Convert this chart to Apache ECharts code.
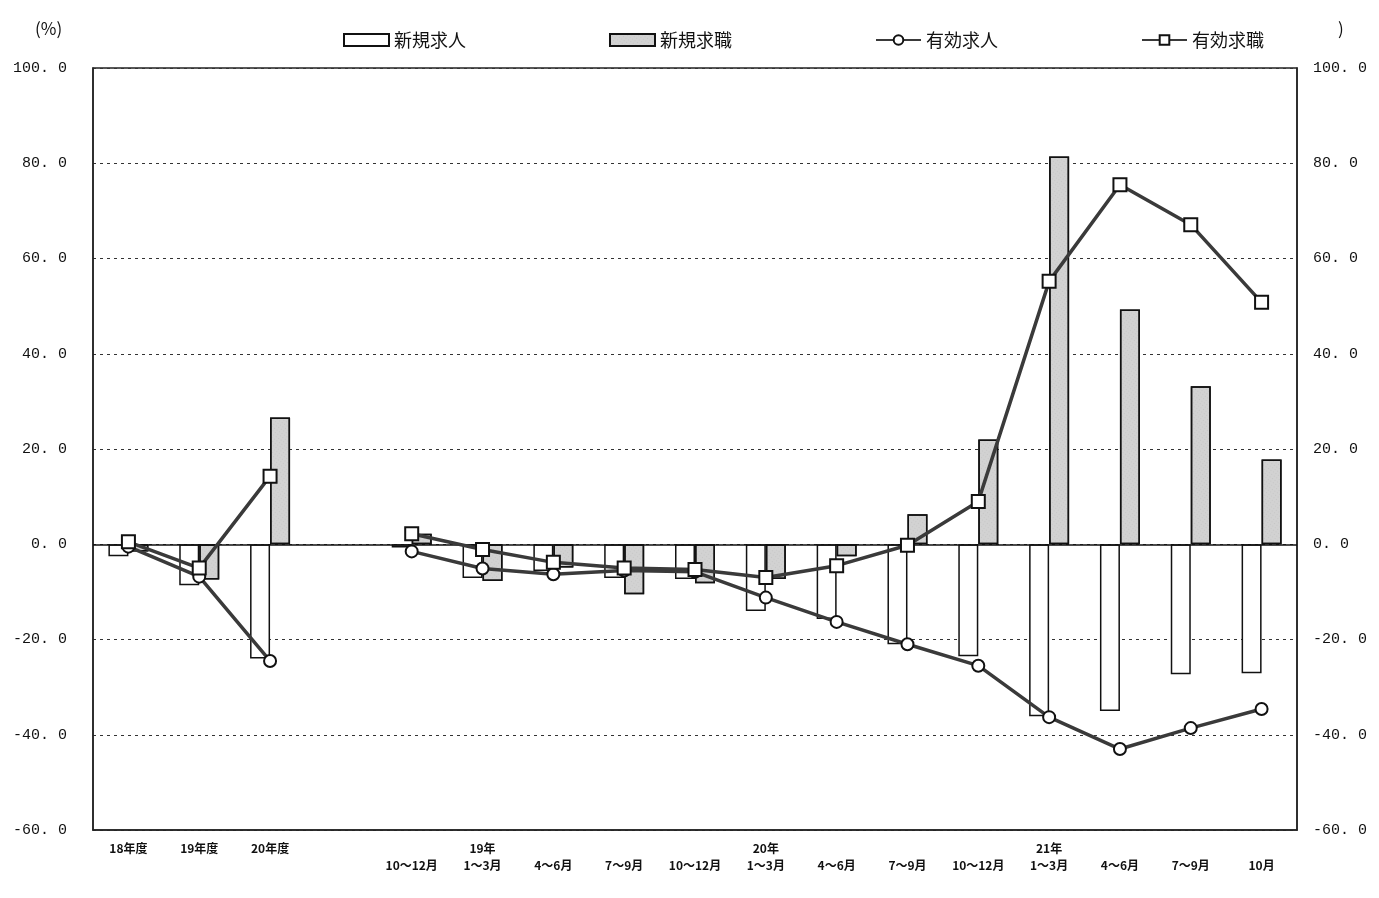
<!DOCTYPE html>
<html>
<head>
<meta charset="utf-8">
<script src="https://cdn.jsdelivr.net/npm/echarts@6/dist/echarts.min.js"></script>
<style>
  html, body { margin: 0; padding: 0; background: #fff; }
  #chart { width: 1379px; height: 898px; }
</style>
</head>
<body>
<div id="chart"></div>
<script>
// Category labels (fiscal years, a blank spacer, then quarters)
const categories = [
  '18年度', '19年度', '20年度', '',
  '\n10～12月', '19年\n1～3月', '\n4～6月', '\n7～9月', '\n10～12月',
  '20年\n1～3月', '\n4～6月', '\n7～9月', '\n10～12月',
  '21年\n1～3月', '\n4～6月', '\n7～9月', '\n10月'
];

// Year-on-year change (%)
const newOpenings   = [-2.5, -8.6, -24.0, null, -0.7, -7.1, -5.6, -7.1, -7.3, -14.0, -15.7, -21.0, -23.5, -36.1, -35.0, -27.3, -27.1];
const newApplicants = [-1.5, -7.4, 26.6, null, 2.2, -7.7, -4.9, -10.5, -8.2, -7.3, -2.5, 6.3, 22.0, 81.4, 49.3, 33.2, 17.8];
const activeOpenings   = [-0.5, -6.8, -24.5, null, -1.5, -5.1, -6.3, -5.5, -5.8, -11.2, -16.3, -21.0, -25.5, -36.3, -43.0, -38.6, -34.6];
const activeApplicants = [0.5, -5.0, 14.3, null, 2.2, -1.1, -3.8, -5.0, -5.3, -7.0, -4.5, -0.2, 9.0, 55.2, 75.5, 67.1, 50.8];

const yTicks = { min: -60, max: 100, interval: 20 };

const chart = echarts.init(document.getElementById('chart'), null, { renderer: 'canvas' });

const tickFont = 'Liberation Mono, DejaVu Sans Mono, monospace';
const cjkFont = '"Noto Sans CJK JP", sans-serif';
const fmt = v => v.toFixed(1).replace('.', '. ');

const lineStyle = { color: '#3a3a3a', width: 3.5 };

chart.setOption({
  animation: false,
  backgroundColor: '#fff',
  textStyle: { fontFamily: cjkFont },
  graphic: [
    { type: 'text', left: 35, top: 20, style: { text: '(%)', font: '17px ' + cjkFont, fill: '#111' } },
    { type: 'text', left: 1338, top: 20, style: { text: ')', font: '17px ' + cjkFont, fill: '#111' } }
  ],
  legend: {
    left: 338,
    top: 26,
    itemWidth: 45,
    itemHeight: 12,
    itemGap: 143,
    textStyle: { fontSize: 18, color: '#111', fontFamily: cjkFont },
    data: [
      { name: '新規求人', icon: 'rect' },
      { name: '新規求職', icon: 'rect' },
      { name: '有効求人' },
      { name: '有効求職' }
    ]
  },
  grid: {
    left: 93, right: 82, top: 68, bottom: 68,
    show: true, borderColor: '#222', borderWidth: 1.5,
    containLabel: false
  },
  xAxis: {
    type: 'category',
    data: categories,
    boundaryGap: true,
    axisLine: { onZero: false, lineStyle: { color: '#222', width: 1.5 } },
    axisTick: { show: false },
    axisLabel: {
      interval: 0,
      margin: 10,
      fontSize: 12,
      fontWeight: 'bold',
      lineHeight: 17,
      color: '#111',
      fontFamily: cjkFont
    }
  },
  yAxis: [
    {
      type: 'value',
      min: yTicks.min, max: yTicks.max, interval: yTicks.interval,
      axisLine: { show: true, lineStyle: { color: '#222', width: 1.5 } },
      axisTick: { show: false },
      axisLabel: { formatter: fmt, fontSize: 15, color: '#111', margin: 26, fontFamily: tickFont },
      splitLine: { show: true, lineStyle: { color: '#333', type: [3, 4], width: 1 } }
    },
    {
      type: 'value',
      position: 'right',
      min: yTicks.min, max: yTicks.max, interval: yTicks.interval,
      axisLine: { show: true, lineStyle: { color: '#222', width: 1.5 } },
      axisTick: { show: false },
      axisLabel: { formatter: fmt, fontSize: 15, color: '#111', margin: 16, fontFamily: tickFont },
      splitLine: { show: false }
    }
  ],
  series: [
    {
      name: '新規求人',
      type: 'bar',
      data: newOpenings,
      barWidth: 20,
      barGap: '0%',
      itemStyle: { color: '#fff', borderColor: '#111', borderWidth: 1.5 },
      markLine: {
        silent: true,
        symbol: 'none',
        label: { show: false },
        lineStyle: { color: '#111', type: 'solid', width: 1.5 },
        data: [{ yAxis: 0 }]
      },
      z: 2
    },
    {
      name: '新規求職',
      type: 'bar',
      data: newApplicants,
      barWidth: 20,
      barGap: '0%',
      itemStyle: {
        color: '#d2d2d2', borderColor: '#111', borderWidth: 1.5,
        decal: { symbol: 'circle', symbolSize: 0.6, dashArrayX: [1, 2], dashArrayY: [1, 2], color: 'rgba(90,90,90,0.45)', rotation: 0.6 }
      },
      z: 2
    },
    {
      name: '有効求人',
      type: 'line',
      data: activeOpenings,
      connectNulls: false,
      symbol: 'circle',
      symbolSize: 12,
      lineStyle: lineStyle,
      itemStyle: { color: '#fff', borderColor: '#111', borderWidth: 2 },
      z: 5
    },
    {
      name: '有効求職',
      type: 'line',
      data: activeApplicants,
      connectNulls: false,
      symbol: 'rect',
      symbolSize: 13,
      lineStyle: lineStyle,
      itemStyle: { color: '#fff', borderColor: '#111', borderWidth: 2 },
      z: 5
    }
  ]
});
</script>
</body>
</html>
